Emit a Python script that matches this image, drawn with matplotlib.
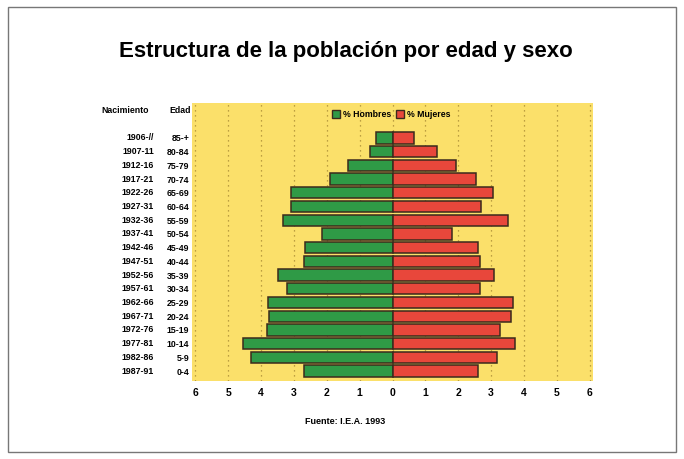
import matplotlib.pyplot as plt
from matplotlib.patches import Patch, Rectangle
from matplotlib.transforms import blended_transform_factory

# Age groups, youngest first
edades = ["0-4", "5-9", "10-14", "15-19", "20-24", "25-29", "30-34", "35-39",
          "40-44", "45-49", "50-54", "55-59", "60-64", "65-69", "70-74",
          "75-79", "80-84", "85-+"]
nacimiento = ["1987-91", "1982-86", "1977-81", "1972-76", "1967-71", "1962-66",
              "1957-61", "1952-56", "1947-51", "1942-46", "1937-41", "1932-36",
              "1927-31", "1922-26", "1917-21", "1912-16", "1907-11", "1906-//"]

# Percent of population
hombres = [2.68, 4.30, 4.55, 3.81, 3.76, 3.79, 3.20, 3.48, 2.69, 2.67,
           2.16, 3.33, 3.10, 3.10, 1.91, 1.35, 0.69, 0.49]
mujeres = [2.59, 3.18, 3.73, 3.28, 3.60, 3.66, 2.65, 3.10, 2.65, 2.61,
           1.81, 3.52, 2.69, 3.05, 2.54, 1.93, 1.35, 0.66]

xticks = [-6, -5, -4, -3, -2, -1, 0, 1, 2, 3, 4, 5, 6]

verde = "#2f9a46"
rojo = "#e8473b"
amarillo = "#fbe06a"
borde = "#3b2a1c"
font = "Liberation Sans"

fig = plt.figure(figsize=(6.84, 4.59), dpi=100)
fig.patches.append(Rectangle((8 / 684, 7 / 459), 668 / 684, 445 / 459,
                             transform=fig.transFigure, fill=False,
                             edgecolor="#777777", linewidth=1.0))

ax = fig.add_axes([0.2807, 0.1699, 0.5863, 0.6057])
ax.set_facecolor(amarillo)
for s in ax.spines.values():
    s.set_visible(False)

y = list(range(len(edades)))
ax.barh(y, [-h for h in hombres], height=0.82, color=verde,
        edgecolor=borde, linewidth=1.1, zorder=3)
ax.barh(y, mujeres, height=0.82, color=rojo,
        edgecolor=borde, linewidth=1.1, zorder=3)

for t in xticks:
    ax.axvline(t, color="#a88a34", linestyle=(0, (1, 3)), linewidth=0.9, zorder=1)

ax.set_xlim(-6.1, 6.1)
ax.set_ylim(-0.73, 19.55)
ax.set_xticks(xticks)
ax.set_xticklabels([str(abs(t)) for t in xticks], fontfamily=font,
                   fontweight="bold", fontsize=7.5)
ax.tick_params(axis="x", length=0, pad=5)
ax.set_yticks(y)
ax.set_yticklabels(edades, fontfamily=font, fontweight="bold", fontsize=6.3)
ax.tick_params(axis="y", length=0, pad=2)

tr = blended_transform_factory(fig.transFigure, ax.transData)
for yi, n in zip(y, nacimiento):
    ax.text(154 / 684, yi, n, transform=tr, ha="right", va="center",
            fontfamily=font, fontweight="bold", fontsize=6.3)

ax.text(125 / 684, 19.0, "Nacimiento", transform=tr, ha="center", va="center",
        fontfamily=font, fontweight="bold", fontsize=6.3)
ax.text(191 / 684, 19.0, "Edad", transform=tr, ha="right", va="center",
        fontfamily=font, fontweight="bold", fontsize=6.3)

handles = [Patch(facecolor=verde, edgecolor=borde, label="% Hombres"),
           Patch(facecolor=rojo, edgecolor=borde, label="% Mujeres")]
ax.legend(handles=handles, loc="upper center", bbox_to_anchor=(0.497, 1.0),
          ncol=2, frameon=False, handlelength=0.9, handleheight=0.9,
          handletextpad=0.3, columnspacing=0.6, borderpad=0.3,
          prop={"family": font, "weight": "bold", "size": 6.3})

fig.text(0.505, (459 - 52) / 459, "Estructura de la población por edad y sexo",
         ha="center", va="center", fontfamily=font,
         fontweight="bold", fontsize=16)
fig.text(0.505, (459 - 421) / 459, "Fuente: I.E.A. 1993", ha="center",
         va="center", fontfamily=font, fontweight="bold", fontsize=6.5)

plt.savefig("out.png", dpi=100)
